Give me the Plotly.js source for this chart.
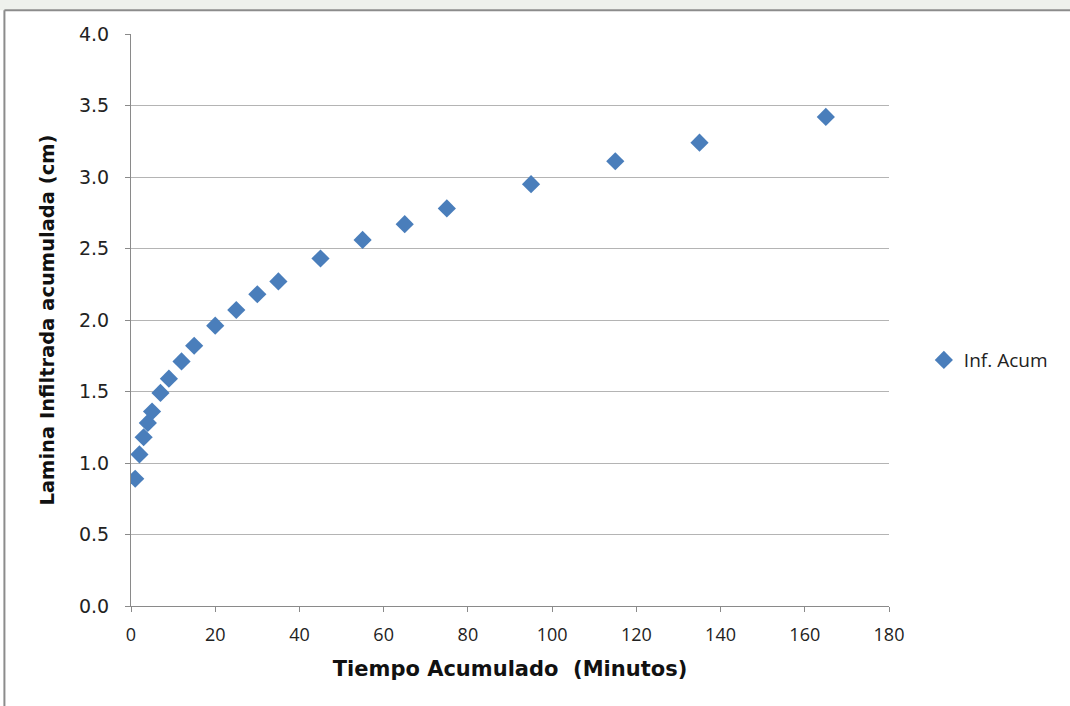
<!DOCTYPE html>
<html>
<head>
<meta charset="utf-8">
<script src="https://cdn.plot.ly/plotly-3.0.1.min.js"></script>
<style>
  html, body { margin: 0; padding: 0; background: #ffffff; }
  #chart { width: 1070px; height: 706px; }
</style>
</head>
<body>
<div id="chart"></div>
<script>
// Accumulated infiltration test: elapsed time (min) vs. infiltrated depth (cm)
const seriesName = 'Inf. Acum';
const tiempoMin = [1, 2, 3, 4, 5, 7, 9, 12, 15, 20, 25, 30, 35, 45, 55, 65, 75, 95, 115, 135, 165];
const laminaCm = [0.89, 1.06, 1.18, 1.28, 1.36, 1.49, 1.59, 1.71, 1.82, 1.96, 2.07, 2.18, 2.27, 2.43, 2.56, 2.67, 2.78, 2.95, 3.11, 3.24, 3.42];
const xTicks = [0, 20, 40, 60, 80, 100, 120, 140, 160, 180];
const yTicks = [0, 0.5, 1, 1.5, 2, 2.5, 3, 3.5, 4];
const xTitle = 'Tiempo Acumulado  (Minutos)';
const yTitle = 'Lamina Infiltrada acumulada (cm)';

const trace = {
  x: tiempoMin,
  y: laminaCm,
  name: seriesName,
  type: 'scatter',
  mode: 'markers',
  marker: { symbol: 'diamond', size: 14, color: '#4a7ebb', line: { width: 0 } },
  hoverinfo: 'x+y'
};

const axisCommon = {
  showline: true,
  linecolor: '#8a8a8a',
  linewidth: 1,
  ticks: 'outside',
  ticklen: 5,
  tickcolor: '#8a8a8a',
  zeroline: false
};

const layout = {
  width: 1070,
  height: 706,
  paper_bgcolor: '#ffffff',
  plot_bgcolor: '#ffffff',
  margin: { l: 131, r: 181, t: 34, b: 100 },
  showlegend: true,
  legend: {
    x: 1.046, xanchor: 'left',
    y: 0.43, yanchor: 'middle',
    itemwidth: 30,
    bgcolor: 'rgba(0,0,0,0)',
    font: { family: 'Open Sans, sans-serif', size: 19, color: '#222222' }
  },
  xaxis: Object.assign({}, axisCommon, {
    range: [0, 180],
    tickvals: xTicks,
    ticktext: xTicks.map(String),
    showgrid: false,
    ticklabelstandoff: 7,
    tickfont: { family: 'Open Sans, sans-serif', size: 18, color: '#222222' },
    title: { text: xTitle, standoff: 16, font: { family: 'DejaVu Sans, sans-serif', size: 21, color: '#111111', weight: 'bold' } }
  }),
  yaxis: Object.assign({}, axisCommon, {
    range: [0, 4],
    tickvals: yTicks,
    ticktext: yTicks.map(v => v.toFixed(1)),
    showgrid: true,
    gridcolor: '#b4b4b4',
    gridwidth: 1,
    ticklabelstandoff: 12,
    tickfont: { family: 'DejaVu Sans, sans-serif', size: 19, color: '#222222' },
    title: { text: yTitle, standoff: 19, font: { family: 'DejaVu Sans, sans-serif', size: 19.5, color: '#111111', weight: 'bold' } }
  }),
  shapes: [
    // faint strip above the frame
    { type: 'rect', xref: 'paper', yref: 'paper', x0: -0.2, x1: 1.3, y0: 1.0415, y1: 1.1,
      fillcolor: '#eef1ec', line: { width: 0 }, layer: 'below' },
    // outer frame (top and left edges)
    { type: 'line', xref: 'paper', yref: 'paper', x0: -0.167, x1: 1.3, y0: 1.0415, y1: 1.0415,
      line: { color: '#8c8c8c', width: 2 } },
    { type: 'line', xref: 'paper', yref: 'paper', x0: -0.167, x1: -0.167, y0: -0.2, y1: 1.0415,
      line: { color: '#8c8c8c', width: 2 } }
  ]
};

Plotly.newPlot('chart', [trace], layout, { displayModeBar: false });
</script>
</body>
</html>
